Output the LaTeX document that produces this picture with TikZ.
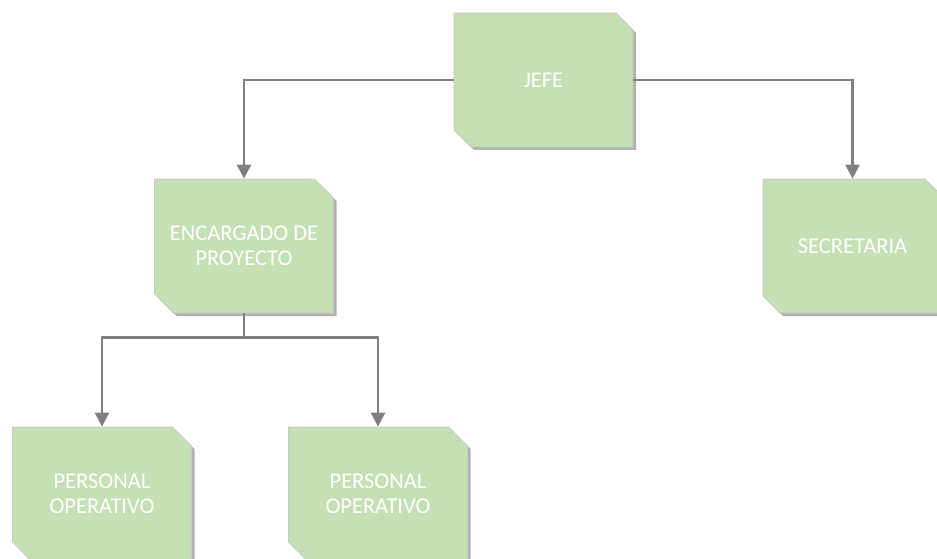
\documentclass[tikz,border=0pt]{standalone}
\usepackage{fontspec}
\setmainfont{Carlito}
\usetikzlibrary{shapes.misc, shadows}
\usetikzlibrary{arrows.meta}
\definecolor{boxgreen}{RGB}{197,224,180}
\definecolor{linegray}{RGB}{127,127,127}

\begin{document}
\begin{tikzpicture}[x=1pt, y=-1pt,
  puesto/.style={chamfered rectangle, chamfered rectangle corners={north east, south west},
    chamfered rectangle xsep=9.5pt, chamfered rectangle ysep=9.5pt,
    minimum width=\BoxW pt, minimum height=\BoxH pt, inner sep=0pt,
    fill=boxgreen, draw=black!22, line width=0.7pt, text=white, align=center,
    font=\fontsize{22.5}{25}\selectfont,
    drop shadow={shadow xshift=3pt, shadow yshift=-3pt, fill=black!55, opacity=0.55}},
  enlace/.style={draw=linegray, line width=2.4pt, -{Triangle[length=14pt, width=14pt]}}]
  \pgfmathsetmacro{\BoxW}{179}
  \pgfmathsetmacro{\BoxH}{134}
  \useasboundingbox (0,0) rectangle (937,559);
  % \draw[red] (0,0) rectangle (937,559);

  \node[puesto] (jefe) at (543.5,80) {JEFE};
  \node[puesto] (encargado) at (244,246) {ENCARGADO DE\\PROYECTO};
  \node[puesto] (secretaria) at (852.5,246) {SECRETARIA};
  \node[puesto] (operativoA) at (102,494) {PERSONAL\\OPERATIVO};
  \node[puesto] (operativoB) at (378,494) {PERSONAL\\OPERATIVO};

  \draw[enlace] (jefe.west) -| (encargado.north);
  \draw[enlace] (jefe.east) -| (secretaria.north);
  \draw[enlace] (encargado.south) -- ++(0,24) -| (operativoA.north);
  \draw[enlace] (encargado.south) -- ++(0,24) -| (operativoB.north);
\end{tikzpicture}
\end{document}
